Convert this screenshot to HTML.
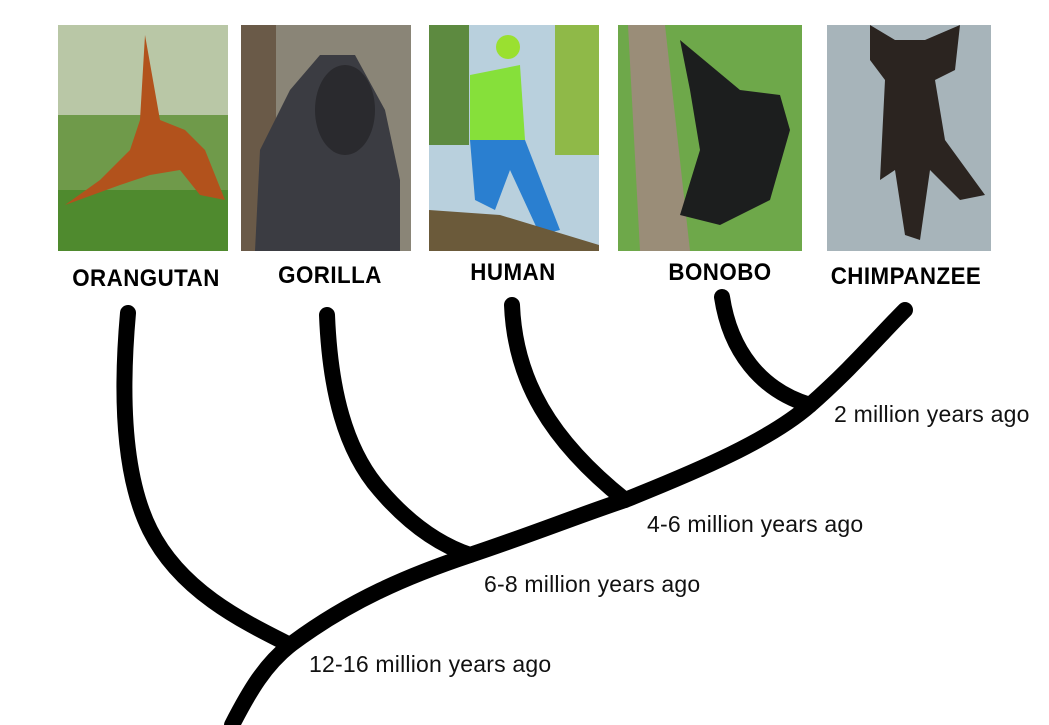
<!DOCTYPE html>
<html><head><meta charset="utf-8"><style>
body{margin:0;width:1049px;height:725px;background:#fff;overflow:hidden;position:relative;font-family:"Liberation Sans",sans-serif}
.lbl{position:absolute;font-weight:bold;font-size:24px;letter-spacing:0.5px;transform:translateX(-50%) scaleX(0.93);white-space:nowrap;color:#000}
.age{position:absolute;font-size:23px;letter-spacing:0.2px;color:#111;white-space:nowrap}
</style></head><body>
<svg width="1049" height="725" style="position:absolute;left:0;top:0">
 <g>
  <rect x="58" y="25" width="170" height="226" fill="#6f9a4a"/>
  <rect x="58" y="25" width="170" height="90" fill="#b9c7a6"/>
  <rect x="58" y="190" width="170" height="61" fill="#4f8a2e"/>
  <path d="M145 35 L160 120 L185 130 L205 150 L225 200 L200 195 L180 170 L150 175 L120 185 L65 205 L100 180 L130 150 L140 120 Z" fill="#b2521c"/>
 </g>
 <g>
  <rect x="241" y="25" width="170" height="226" fill="#8a8577"/>
  <rect x="241" y="25" width="35" height="226" fill="#6a5a48"/>
  <path d="M255 251 L260 150 L290 90 L320 55 L355 55 L385 110 L400 180 L400 251 Z" fill="#3b3c42"/>
  <ellipse cx="345" cy="110" rx="30" ry="45" fill="#2a2a2e"/>
 </g>
 <g>
  <rect x="429" y="25" width="170" height="226" fill="#b9d0dd"/>
  <rect x="429" y="25" width="40" height="120" fill="#5d8a40"/>
  <rect x="555" y="25" width="44" height="130" fill="#8fb948"/>
  <path d="M470 75 L520 65 L525 140 L470 140 Z" fill="#86e03a"/>
  <circle cx="508" cy="47" r="12" fill="#9ae030"/>
  <path d="M470 140 L525 140 L560 230 L540 235 L510 170 L495 210 L475 200 Z" fill="#2a7fd0"/>
  <path d="M429 210 L500 215 L599 245 L599 251 L429 251 Z" fill="#6b5a3a"/>
 </g>
 <g>
  <rect x="618" y="25" width="184" height="226" fill="#6ea84a"/>
  <path d="M628 25 L665 25 L690 251 L640 251 Z" fill="#9a8d78"/>
  <path d="M680 40 L740 90 L780 95 L790 130 L770 200 L720 225 L680 215 L700 150 L690 90 Z" fill="#1c1e1e"/>
 </g>
 <g>
  <rect x="827" y="25" width="164" height="226" fill="#a7b4ba"/>
  <path d="M870 25 L895 40 L925 40 L960 25 L955 70 L935 80 L945 140 L985 195 L960 200 L930 170 L920 240 L905 235 L895 170 L880 180 L885 80 L870 60 Z" fill="#2b2420"/>
 </g>
 <g id="branches" fill="none" stroke="#000" stroke-width="16" stroke-linecap="round" stroke-linejoin="round"></g>
</svg>
<div class="lbl" style="left:146px;top:265px">ORANGUTAN</div>
<div class="lbl" style="left:330px;top:262px">GORILLA</div>
<div class="lbl" style="left:513px;top:259px">HUMAN</div>
<div class="lbl" style="left:720px;top:259px">BONOBO</div>
<div class="lbl" style="left:906px;top:263px">CHIMPANZEE</div>
<div class="age" style="left:834px;top:401px">2 million years ago</div>
<div class="age" style="left:647px;top:511px">4-6 million years ago</div>
<div class="age" style="left:484px;top:571px">6-8 million years ago</div>
<div class="age" style="left:309px;top:651px">12-16 million years ago</div>
<script>
const branchNames=['trunk','branch-orangutan','branch-gorilla','branch-human','branch-bonobo'];
const branchPaths=[
 'M232 725 C250 690 265 665 290 645 C350 600 410 575 470 555 C530 535 580 515 625 500 C700 470 770 440 810 405 C850 370 880 335 905 310',
 'M128 313 C122 380 120 470 150 530 C180 590 240 620 290 645',
 'M327 315 C330 390 345 450 380 490 C410 525 440 545 470 555',
 'M512 305 C515 380 550 440 625 500',
 'M722 297 C730 350 760 390 810 405'
];
const g=document.getElementById('branches');
branchPaths.forEach((d,i)=>{
 const p=document.createElementNS('http://www.w3.org/2000/svg','path');
 p.setAttribute('d',d);
 
 
 g.appendChild(p);
});
</script>
</body></html>
